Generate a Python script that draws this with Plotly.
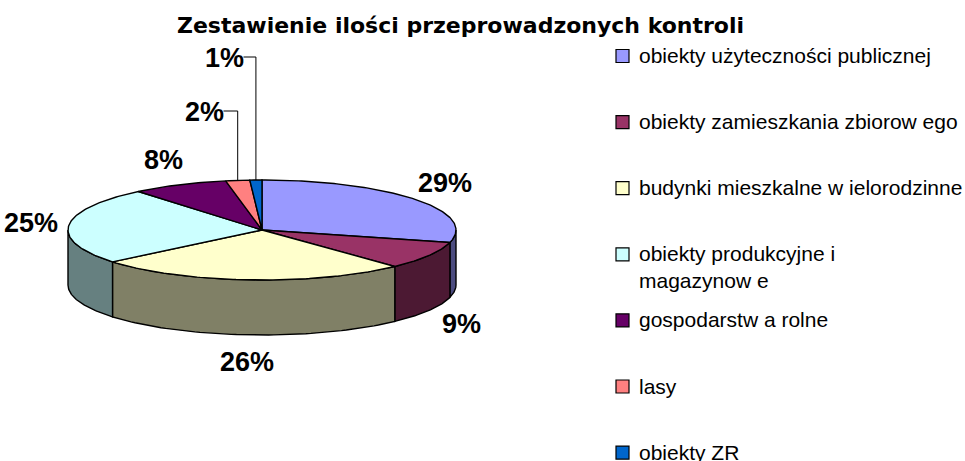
import numpy as np
import plotly.graph_objects as go

# ---- data ----
title_text = "Zestawienie ilości przeprowadzonych kontroli"
categories = [
    "obiekty użyteczności publicznej",
    "obiekty zamieszkania zbiorow ego",
    "budynki mieszkalne w ielorodzinne",
    "obiekty produkcyjne i<br>magazynow e",
    "gospodarstw a rolne",
    "lasy",
    "obiekty ZR",
]
values = [29, 9, 26, 25, 8, 2, 1]
top_colors = ["#9999FF", "#993366", "#FFFFCC", "#CCFFFF", "#660066", "#FF8080", "#0066CC"]
side_colors = ["#4C4C80", "#4C1933", "#808066", "#668080", "#330033", "#804040", "#003366"]

# ---- geometry (pixel space) ----
W, H = 965, 461
CX, CY, RX, RY, DEPTH = 262, 230, 194, 50, 55
LRX, LRY = 232, 77
label_override = {5: (204, 112), 6: (224, 58)}
FONT = "Liberation Sans, Arial, sans-serif"
TITLE_FONT = "DejaVu Sans, sans-serif"


def pt(theta, dy=0.0):
    t = np.radians(theta)
    return CX + RX * np.sin(t), CY - RY * np.cos(t) + dy


total = float(sum(values))
bounds = np.concatenate([[0.0], np.cumsum(values) / total * 360.0])

fig = go.Figure()

# side walls (front half only: 90..270 degrees)
for i, v in enumerate(values):
    a0, a1 = max(bounds[i], 90.0), min(bounds[i + 1], 270.0)
    if a1 <= a0:
        continue
    th = np.linspace(a0, a1, 60)
    xt, yt = pt(th)
    xb, yb = pt(th[::-1], DEPTH)
    fig.add_trace(go.Scatter(
        x=np.concatenate([xt, xb, xt[:1]]), y=np.concatenate([yt, yb, yt[:1]]),
        mode="lines", fill="toself", fillcolor=side_colors[i],
        line=dict(color="black", width=1.4), hoverinfo="skip", showlegend=False))

# top faces
for i, v in enumerate(values):
    th = np.linspace(bounds[i], bounds[i + 1], max(4, int(v * 4)))
    xa, ya = pt(th)
    fig.add_trace(go.Scatter(
        x=np.concatenate([[CX], xa, [CX]]), y=np.concatenate([[CY], ya, [CY]]),
        mode="lines", fill="toself", fillcolor=top_colors[i],
        line=dict(color="black", width=1.4), hoverinfo="skip", showlegend=False))

annotations = []
shapes = []
# data labels
for i, v in enumerate(values):
    mid = (bounds[i] + bounds[i + 1]) / 2
    t = np.radians(mid)
    if i in label_override:
        lx, ly = label_override[i]
        ax, ay = pt(mid)
        rx = lx + 0.75 * len(f"{v}%") * 13
        fig.add_trace(go.Scatter(x=[rx, ax, ax], y=[ly - 1, ly - 1, ay],
                                 mode="lines", line=dict(color="black", width=1),
                                 hoverinfo="skip", showlegend=False))
    else:
        lx = CX + LRX * np.sin(t)
        ly = CY - LRY * np.cos(t) + (DEPTH if np.cos(t) < 0 else 0)
    annotations.append(dict(x=lx, y=ly, text=f"<b>{v}%</b>", showarrow=False,
                            xanchor="center", yanchor="middle",
                            font=dict(family=FONT, size=27, color="black")))

# title
annotations.append(dict(x=460, y=25, text=f"<b>{title_text}</b>", showarrow=False,
                        xanchor="center", yanchor="middle",
                        font=dict(family=TITLE_FONT, size=22, color="black")))

# legend
LEG_Y0, LEG_DY, LEG_SQ_X, LEG_TX = 56, 66.1, 616, 637
for i, c in enumerate(categories):
    y = LEG_Y0 + LEG_DY * i
    shapes.append(dict(type="rect", x0=LEG_SQ_X, x1=LEG_SQ_X + 13, y0=y - 6.5, y1=y + 6.5,
                       fillcolor=top_colors[i], line=dict(color="black", width=1.2)))
    annotations.append(dict(x=LEG_TX, y=y - 14, text=c, showarrow=False,
                            xanchor="left", yanchor="top", align="left",
                            font=dict(family=FONT, size=21, color="black")))

fig.update_layout(
    width=W, height=H, margin=dict(l=0, r=0, t=0, b=0),
    paper_bgcolor="white", plot_bgcolor="white",
    xaxis=dict(range=[0, W], visible=False, fixedrange=True),
    yaxis=dict(range=[H, 0], visible=False, fixedrange=True),
    annotations=annotations, shapes=shapes, showlegend=False,
)

fig.write_html("out.html", config={"displayModeBar": False},
               post_script="document.body.style.margin='0';")
